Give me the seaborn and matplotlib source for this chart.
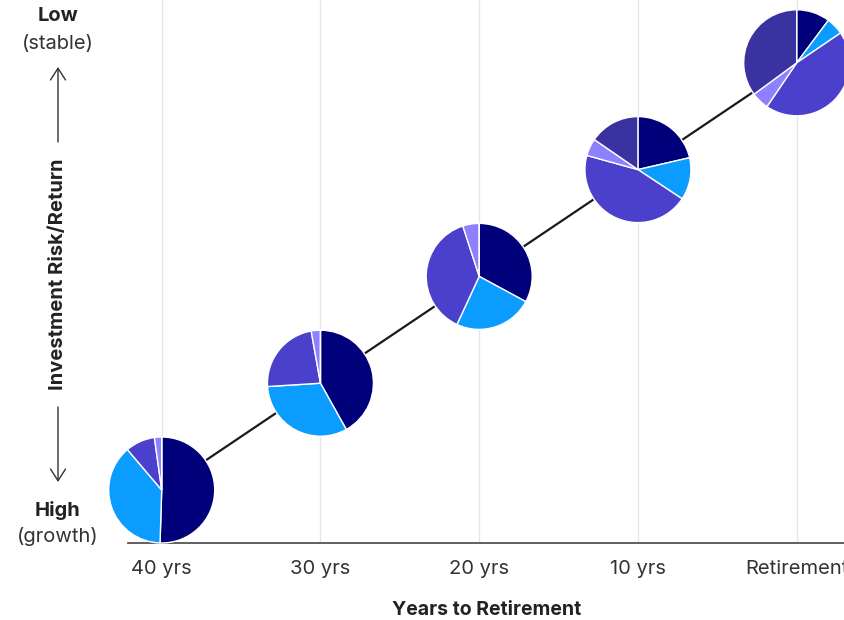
import matplotlib
matplotlib.use("Agg")
import matplotlib.pyplot as plt
import seaborn as sns
import pandas as pd

# ---- data ----
stages = ["40 yrs", "30 yrs", "20 yrs", "10 yrs", "Retirement"]
stage_pos = [0, 1, 2, 3, 4]
stability = [0, 1, 2, 3, 4]  # position on risk/return axis (0 = high risk)
asset_names = ["Asset A", "Asset B", "Asset C", "Asset D", "Asset E"]
asset_colors = ["#00007A", "#0A9CFF", "#4B40CC", "#8F80FF", "#3A32A0"]
alloc_40 = [50.5, 38.3, 9.0, 2.2, 0.0]
alloc_30 = [41.9, 32.1, 23.2, 2.8, 0.0]
alloc_20 = [32.9, 24.0, 38.1, 5.0, 0.0]
alloc_10 = [21.4, 12.9, 45.0, 5.3, 15.4]
alloc_ret = [10.2, 5.3, 44.0, 5.4, 35.1]
allocations = [alloc_40, alloc_30, alloc_20, alloc_10, alloc_ret]

sns.set_theme(style="white")
plt.rcParams["font.family"] = ["Inter", "DejaVu Sans"]

W, H = 845, 620
fig = plt.figure(figsize=(W / 100, H / 100), dpi=100)

ax_left_px, ax_bottom_px = 128, 543
ax = fig.add_axes([ax_left_px / W, (H - ax_bottom_px) / H, 1 - ax_left_px / W, ax_bottom_px / H])

x0_px, dx_px = 161.7, 158.75
y0_px, dy_px = 490.0, 106.8
ax.set_xlim((ax_left_px - x0_px) / dx_px, (W - x0_px) / dx_px)
ax.set_ylim((y0_px - ax_bottom_px) / dy_px, y0_px / dy_px)

# gridlines
for p in stage_pos:
    ax.axvline(p, color="#E6E6E6", lw=1.0, zorder=0)

df = pd.DataFrame({"pos": stage_pos, "stab": stability})
sns.lineplot(data=df, x="pos", y="stab", ax=ax, color="#1A1A1A", lw=1.6, zorder=1)

# pies
r_px = 53.0
w_d = 2 * r_px / dx_px
h_d = 2 * r_px / dy_px
for p, s, alloc in zip(stage_pos, stability, allocations):
    iax = ax.inset_axes([p - w_d / 2, s - h_d / 2, w_d, h_d], transform=ax.transData, zorder=3)
    iax.pie(alloc, colors=asset_colors, startangle=90, counterclock=False, radius=1,
            wedgeprops=dict(edgecolor="white", linewidth=1.0))
    iax.set_xlim(-1.0, 1.0)
    iax.set_ylim(-1.0, 1.0)
    iax.set_axis_off()

for side in ["left", "right", "top"]:
    ax.spines[side].set_visible(False)
ax.spines["bottom"].set_color("#444444")
ax.spines["bottom"].set_linewidth(1.2)

ax.set_xticks(stage_pos)
ax.set_xticklabels(stages, fontsize=14.5, color="#333333")
ax.tick_params(axis="x", length=0, pad=12)
ax.set_yticks([])
ax.set_xlabel("Years to Retirement", fontsize=14, fontweight="bold", color="#222222", labelpad=17)
ax.set_ylabel("")

# left-side annotations
def fx(px):
    return px / W

def fy(py):
    return 1 - py / H

cx = 58
fig.text(fx(cx), fy(16), "Low", ha="center", va="center", fontsize=14.5, fontweight="bold", color="#222222")
fig.text(fx(cx), fy(44), "(stable)", ha="center", va="center", fontsize=14.5, color="#333333")
fig.text(fx(cx), fy(274), "Investment Risk/Return", ha="center", va="center", rotation=90,
         fontsize=14.5, fontweight="bold", color="#222222")
fig.text(fx(cx), fy(510), "High", ha="center", va="center", fontsize=14.5, fontweight="bold", color="#222222")
fig.text(fx(cx), fy(537), "(growth)", ha="center", va="center", fontsize=14.5, color="#333333")

arrow_kw = dict(arrowstyle="->,head_length=0.7,head_width=0.45", mutation_scale=12,
                color="#333333", lw=1.0, shrinkA=0, shrinkB=0)
fig.add_artist(matplotlib.patches.FancyArrowPatch((fx(cx), fy(142)), (fx(cx), fy(67)),
                                                  transform=fig.transFigure, **arrow_kw))
fig.add_artist(matplotlib.patches.FancyArrowPatch((fx(cx), fy(407)), (fx(cx), fy(482)),
                                                  transform=fig.transFigure, **arrow_kw))

fig.savefig("out.png", dpi=100)
